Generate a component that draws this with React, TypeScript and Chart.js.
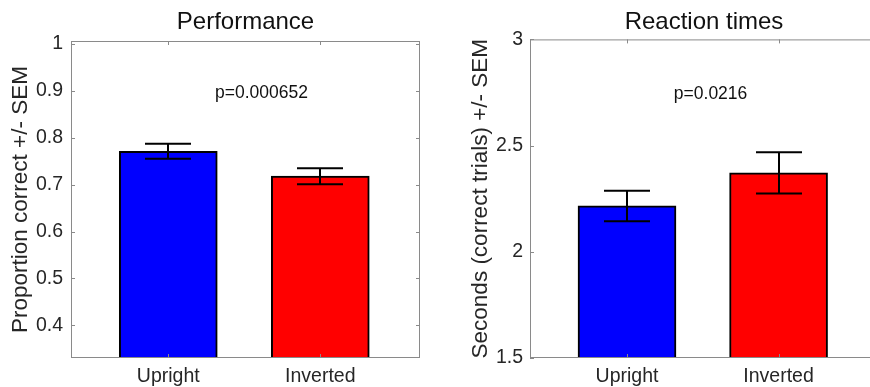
import React, { useEffect, useRef } from 'react';
import { Chart, registerables } from 'chart.js';

Chart.register(...registerables);

// ---- data ----
const categories = ['Upright', 'Inverted'];
const categoryPositions = [1, 2];
const barColors = ['#0000ff', '#ff0000'];
const xRange = [0.36, 2.656];

const perfTitle = 'Performance';
const perfYLabel = 'Proportion correct +/- SEM';
const perfMeans = [0.771, 0.718];
const perfSem = [0.016, 0.017];
const perfYTicks = [0.4, 0.5, 0.6, 0.7, 0.8, 0.9, 1];
const perfYTickLabels = ['0.4', '0.5', '0.6', '0.7', '0.8', '0.9', '1'];
const perfYRange = [0.3305, 1.006];
const perfPText = 'p=0.000652';
const perfPAt = [1.307, 0.894];

const rtTitle = 'Reaction times';
const rtYLabel = 'Seconds (correct trials) +/- SEM';
const rtMeans = [2.216, 2.372];
const rtSem = [0.072, 0.097];
const rtYTicks = [1.5, 2, 2.5, 3];
const rtYTickLabels = ['1.5', '2', '2.5', '3'];
const rtYRange = [1.5, 3];
const rtPText = 'p=0.0216';
const rtPAt = [1.309, 2.743];

const FONT = '"Liberation Sans", Arial, Helvetica, sans-serif';
const TEXT_COLOR = '#262626';
const FRAME_COLOR = '#8a8a8a';

const decorPlugin = {
  id: 'panelDecor',
  afterDatasetsDraw(chart: any, _args: any, opts: any) {
    const { ctx, chartArea: a, scales } = chart;
    const x = scales.x;
    const y = scales.y;
    ctx.save();
    // frame
    ctx.strokeStyle = FRAME_COLOR;
    ctx.lineWidth = 1;
    ctx.strokeRect(a.left + 0.5, a.top + 0.5, a.right - a.left - 1, a.bottom - a.top - 1);
    // inward ticks
    const tl = 4;
    ctx.beginPath();
    y.ticks.forEach((t: any) => {
      const py = Math.round(y.getPixelForValue(t.value)) + 0.5;
      ctx.moveTo(a.left, py);
      ctx.lineTo(a.left + tl, py);
      ctx.moveTo(a.right, py);
      ctx.lineTo(a.right - tl, py);
    });
    x.ticks.forEach((t: any) => {
      const px = Math.round(x.getPixelForValue(t.value)) + 0.5;
      ctx.moveTo(px, a.top);
      ctx.lineTo(px, a.top + tl);
      ctx.moveTo(px, a.bottom);
      ctx.lineTo(px, a.bottom - tl);
    });
    ctx.stroke();
    // error bars
    ctx.strokeStyle = '#000';
    ctx.lineWidth = 2;
    const cap = 23;
    ctx.beginPath();
    opts.positions.forEach((pos: number, i: number) => {
      const px = Math.round(x.getPixelForValue(pos));
      const yt = y.getPixelForValue(opts.means[i] + opts.sem[i]);
      const yb = y.getPixelForValue(opts.means[i] - opts.sem[i]);
      ctx.moveTo(px, yt);
      ctx.lineTo(px, yb);
      ctx.moveTo(px - cap, yt);
      ctx.lineTo(px + cap, yt);
      ctx.moveTo(px - cap, yb);
      ctx.lineTo(px + cap, yb);
    });
    ctx.stroke();
    // p-value text
    ctx.fillStyle = '#111';
    ctx.font = `17.5px ${FONT}`;
    ctx.textAlign = 'left';
    ctx.textBaseline = 'middle';
    ctx.fillText(opts.pText, x.getPixelForValue(opts.pAt[0]), y.getPixelForValue(opts.pAt[1]));
    ctx.restore();
  },
};

function makeConfig(p: any): any {
  return {
    type: 'bar',
    data: {
      datasets: [
        {
          data: categoryPositions.map((xv, i) => ({ x: xv, y: p.means[i] })),
          backgroundColor: barColors,
          borderColor: '#000',
          borderWidth: 2,
          barThickness: 98,
          base: p.yRange[0],
        },
      ],
    },
    options: {
      responsive: false,
      animation: false,
      events: [],
      layout: { padding: { top: 0, left: 0, right: p.layoutRight, bottom: 0 } },
      plugins: {
        legend: { display: false },
        tooltip: { enabled: false },
        title: {
          display: true,
          text: p.title,
          fullSize: false,
          color: '#111',
          font: { family: FONT, size: 24, weight: 'normal', lineHeight: 1.2 },
          padding: { top: 8.2, bottom: p.titlePadBottom },
        },
        panelDecor: {
          positions: categoryPositions,
          means: p.means,
          sem: p.sem,
          pText: p.pText,
          pAt: p.pAt,
        },
      },
      scales: {
        x: {
          type: 'linear',
          offset: false,
          min: xRange[0],
          max: xRange[1],
          grid: { display: false, drawTicks: false },
          border: { display: false },
          afterBuildTicks: (s: any) => {
            s.ticks = categoryPositions.map((v) => ({ value: v }));
          },
          afterFit: (s: any) => {
            s.height = 29;
          },
          ticks: {
            padding: 7,
            color: TEXT_COLOR,
            font: { family: FONT, size: 19.5, lineHeight: 1.2 },
            autoSkip: false,
            maxRotation: 0,
            callback: (_v: any, i: number) => categories[i],
          },
        },
        y: {
          type: 'linear',
          beginAtZero: false,
          min: p.yRange[0],
          max: p.yRange[1],
          grid: { display: false, drawTicks: false },
          border: { display: false },
          afterBuildTicks: (s: any) => {
            s.ticks = p.yTicks.map((v: number) => ({ value: v }));
          },
          afterFit: (s: any) => {
            s.width = p.yAxisWidth;
          },
          ticks: {
            padding: p.yTickPad,
            color: TEXT_COLOR,
            font: { family: FONT, size: 19.5, lineHeight: 1.2 },
            autoSkip: false,
            callback: (_v: any, i: number) => p.yTickLabels[i],
          },
          title: {
            display: true,
            text: p.yLabel,
            color: TEXT_COLOR,
            font: { family: FONT, size: 22.5, lineHeight: 1.2 },
            padding: { top: p.yTitlePad, bottom: 0 },
          },
        },
      },
    },
    plugins: [decorPlugin],
  };
}

export default function App() {
  const leftRef = useRef<HTMLCanvasElement>(null);
  const rightRef = useRef<HTMLCanvasElement>(null);

  useEffect(() => {
    const c1 = new Chart(
      leftRef.current as HTMLCanvasElement,
      makeConfig({
        title: perfTitle,
        yLabel: perfYLabel,
        means: perfMeans,
        sem: perfSem,
        yTicks: perfYTicks,
        yTickLabels: perfYTickLabels,
        yRange: perfYRange,
        pText: perfPText,
        pAt: perfPAt,
        yAxisWidth: 71,
        yTitlePad: 7.5,
        yTickPad: 8,
        layoutRight: 15,
        titlePadBottom: 4.0,
      })
    );
    const c2 = new Chart(
      rightRef.current as HTMLCanvasElement,
      makeConfig({
        title: rtTitle,
        yLabel: rtYLabel,
        means: rtMeans,
        sem: rtSem,
        yTicks: rtYTicks,
        yTickLabels: rtYTickLabels,
        yRange: rtYRange,
        pText: rtPText,
        pAt: rtPAt,
        yAxisWidth: 95,
        yTitlePad: 32.5,
        yTickPad: 7,
        layoutRight: 2,
        titlePadBottom: 2.4,
      })
    );
    return () => {
      c1.destroy();
      c2.destroy();
    };
  }, []);

  return (
    <div
      style={{
        position: 'fixed',
        left: 0,
        top: 0,
        width: 870,
        height: 387,
        overflow: 'hidden',
        background: '#fff',
      }}
    >
      <canvas ref={leftRef} width={435} height={387} style={{ position: 'absolute', left: 0, top: 0 }} />
      <canvas ref={rightRef} width={445} height={387} style={{ position: 'absolute', left: 435, top: 0 }} />
    </div>
  );
}
